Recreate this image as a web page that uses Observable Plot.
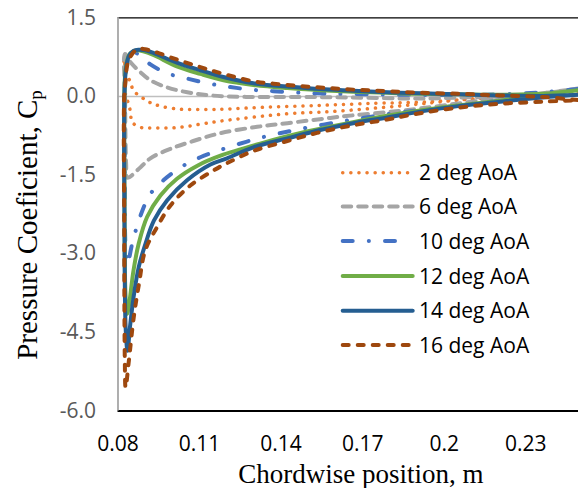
<!DOCTYPE html>
<html><head><meta charset="utf-8">
<script src="https://cdn.jsdelivr.net/npm/d3@7"></script>
<script src="https://cdn.jsdelivr.net/npm/@observablehq/plot@0.6"></script>
<style>body{margin:0;background:#fff}</style>
</head><body><div id="chart"></div>
<script>
const seriesNames = ["2 deg AoA", "6 deg AoA", "10 deg AoA", "12 deg AoA", "14 deg AoA", "16 deg AoA"];
const xTicks = [0.08, 0.11, 0.14, 0.17, 0.2, 0.23];
const yTicks = [1.5, 0, -1.5, -3, -4.5, -6];

// 2 deg: pressure side (p) and suction side (s), leading edge -> trailing edge
const x2p = [0.0822, 0.0831, 0.0846, 0.0857, 0.0883, 0.0907, 0.0930, 0.0960, 0.1018, 0.1077, 0.1140, 0.1202, 0.1323, 0.1544, 0.1750, 0.1911, 0.2069, 0.2205, 0.2363, 0.2492];
const cp2p = [0.72, 0.44, 0.27, 0.11, 0.00, -0.09, -0.14, -0.19, -0.24, -0.25, -0.25, -0.24, -0.21, -0.17, -0.13, -0.11, -0.06, -0.02, 0.03, 0.10];
const x2s = [0.0825, 0.0829, 0.0839, 0.0846, 0.0852, 0.0883, 0.0912, 0.0945, 0.1000, 0.1055, 0.1114, 0.1177, 0.1423, 0.1581, 0.1838, 0.2069, 0.2205, 0.2363, 0.2492];
const cp2s = [0.30, 0.00, -0.14, -0.30, -0.49, -0.59, -0.60, -0.60, -0.60, -0.57, -0.52, -0.47, -0.33, -0.29, -0.18, -0.06, 0.00, 0.06, 0.12];

// 6 deg
const x6p = [0.0826, 0.0846, 0.0883, 0.0919, 0.0982, 0.1055, 0.1140, 0.1287, 0.1471, 0.1654, 0.1911, 0.2058, 0.2205, 0.2363, 0.2492];
const cp6p = [0.81, 0.65, 0.46, 0.31, 0.17, 0.08, 0.02, -0.01, -0.01, -0.02, -0.04, -0.02, 0.00, 0.06, 0.15];
const x6s = [0.0826, 0.0830, 0.0834, 0.0883, 0.0919, 0.0993, 0.1077, 0.1177, 0.1312, 0.1423, 0.1581, 0.1665, 0.1790, 0.1911, 0.2058, 0.2205, 0.2363, 0.2492];
const cp6s = [0.00, -1.30, -1.55, -1.35, -1.18, -1.00, -0.85, -0.70, -0.58, -0.51, -0.41, -0.36, -0.30, -0.23, -0.13, -0.03, 0.06, 0.15];

// 10 deg
const x10p = [0.0825, 0.0831, 0.0842, 0.0857, 0.0875, 0.0901, 0.0919, 0.0982, 0.1055, 0.1140, 0.1213, 0.1287, 0.1371, 0.1518, 0.1606, 0.1753, 0.1911, 0.2058, 0.2205, 0.2363, 0.2492];
const cp10p = [0.20, 0.60, 0.80, 0.85, 0.80, 0.69, 0.61, 0.44, 0.34, 0.24, 0.18, 0.13, 0.10, 0.06, 0.05, 0.04, 0.03, 0.03, 0.04, 0.08, 0.14];
const x10s = [0.0825, 0.0828, 0.0835, 0.0852, 0.0883, 0.0919, 0.0967, 0.1041, 0.1103, 0.1177, 0.1323, 0.1471, 0.1643, 0.1790, 0.1911, 0.2058, 0.2205, 0.2363, 0.2492];
const cp10s = [-1.50, -2.90, -3.20, -2.81, -2.27, -1.86, -1.60, -1.32, -1.16, -1.02, -0.79, -0.62, -0.46, -0.34, -0.26, -0.17, -0.08, 0.02, 0.14];

// 12 deg
const x12p = [0.0824, 0.0829, 0.0840, 0.0856, 0.0871, 0.0893, 0.0930, 0.1019, 0.1103, 0.1188, 0.1298, 0.1423, 0.1544, 0.1665, 0.1790, 0.1911, 0.2058, 0.2205, 0.2363, 0.2492];
const cp12p = [0.20, 0.55, 0.78, 0.86, 0.88, 0.86, 0.79, 0.57, 0.43, 0.31, 0.22, 0.16, 0.12, 0.09, 0.07, 0.05, 0.04, 0.03, 0.05, 0.12];
const x12s = [0.0824, 0.0827, 0.0833, 0.0839, 0.0857, 0.0876, 0.0907, 0.0956, 0.1017, 0.1092, 0.1177, 0.1323, 0.1495, 0.1665, 0.1790, 0.1911, 0.2058, 0.2205, 0.2363, 0.2492];
const cp12s = [-2.00, -3.70, -4.15, -4.03, -3.32, -2.81, -2.30, -1.89, -1.57, -1.32, -1.13, -0.90, -0.67, -0.49, -0.37, -0.27, -0.17, -0.08, 0.03, 0.12];

// 14 deg
const x14p = [0.0824, 0.0829, 0.0840, 0.0858, 0.0875, 0.0900, 0.0930, 0.1019, 0.1103, 0.1188, 0.1298, 0.1423, 0.1544, 0.1665, 0.1790, 0.1911, 0.2058, 0.2205, 0.2363, 0.2492];
const cp14p = [0.10, 0.50, 0.77, 0.87, 0.89, 0.88, 0.83, 0.64, 0.50, 0.37, 0.25, 0.19, 0.14, 0.11, 0.08, 0.06, 0.04, 0.02, 0.01, 0.03];
const x14s = [0.0824, 0.0828, 0.0835, 0.0844, 0.0857, 0.0876, 0.0901, 0.0932, 0.0981, 0.1054, 0.1140, 0.1201, 0.1298, 0.1423, 0.1544, 0.1665, 0.1790, 0.1911, 0.2058, 0.2205, 0.2363, 0.2492];
const cp14s = [-2.50, -4.40, -4.85, -4.40, -3.84, -3.26, -2.81, -2.37, -1.98, -1.60, -1.30, -1.18, -0.97, -0.80, -0.64, -0.51, -0.40, -0.29, -0.18, -0.10, -0.02, 0.03];

// 16 deg
const x16p = [0.0823, 0.0828, 0.0835, 0.0852, 0.0868, 0.0883, 0.0900, 0.0930, 0.1019, 0.1103, 0.1188, 0.1298, 0.1423, 0.1544, 0.1665, 0.1790, 0.1911, 0.2058, 0.2205, 0.2363, 0.2492];
const cp16p = [0.00, 0.30, 0.62, 0.81, 0.89, 0.91, 0.90, 0.86, 0.70, 0.56, 0.43, 0.29, 0.22, 0.17, 0.13, 0.10, 0.07, 0.05, 0.02, -0.01, -0.07];
const x16s = [0.0823, 0.0825, 0.0828, 0.0840, 0.0858, 0.0878, 0.0900, 0.0944, 0.0993, 0.1066, 0.1152, 0.1202, 0.1298, 0.1423, 0.1544, 0.1665, 0.1790, 0.1911, 0.2058, 0.2205, 0.2363, 0.2492];
const cp16s = [-2.50, -5.00, -5.55, -5.04, -4.21, -3.55, -2.94, -2.49, -2.08, -1.70, -1.41, -1.27, -1.04, -0.85, -0.68, -0.55, -0.44, -0.32, -0.21, -0.14, -0.10, -0.07];

const seriesData = [
  [x2p, cp2p, x2s, cp2s], [x6p, cp6p, x6s, cp6s], [x10p, cp10p, x10s, cp10s],
  [x12p, cp12p, x12s, cp12s], [x14p, cp14p, x14s, cp14s], [x16p, cp16p, x16s, cp16s]
];
const styles = [
  {stroke: "#ED7D31", strokeWidth: 3.5, dash: "0.1 8"},
  {stroke: "#A5A5A5", strokeWidth: 4, dash: "8.5 7"},
  {stroke: "#4472C4", strokeWidth: 4, dash: "10 16.1 0.1 16.1"},
  {stroke: "#70AD47", strokeWidth: 4, dash: null},
  {stroke: "#255E91", strokeWidth: 4, dash: null},
  {stroke: "#9E480E", strokeWidth: 4, dash: "6 9"}
];

function loop(xp, cpp, xs, cps, name) {
  const rows = [];
  for (let i = xp.length - 1; i >= 0; i--) rows.push({x: xp[i], cp: cpp[i], s: name});
  for (let i = 0; i < xs.length; i++) rows.push({x: xs[i], cp: cps[i], s: name});
  return rows;
}

const lineMarks = seriesData.map((d, i) => Plot.line(loop(d[0], d[1], d[2], d[3], seriesNames[i]), {
  x: "x", y: "cp", stroke: styles[i].stroke, strokeWidth: styles[i].strokeWidth,
  strokeDasharray: styles[i].dash || undefined, strokeLinecap: "round", strokeLinejoin: "round",
  curve: "catmull-rom"
}));

const svg = Plot.plot({
  width: 578, height: 488,
  marginLeft: 117.5, marginRight: 0, marginTop: 17.3, marginBottom: 77.5,
  style: {fontFamily: "'Open Sans', sans-serif", fontSize: "21px", background: "#fff"},
  x: {domain: [0.08, 0.2494]},
  y: {domain: [-6, 1.5]},
  marks: [
    Plot.ruleY([0], {stroke: "#BFBFBF", strokeWidth: 1.5}),
    Plot.ruleY([1.5], {stroke: "#000", strokeWidth: 1.3}),
    Plot.ruleY([-6], {stroke: "#000", strokeWidth: 2}),
    Plot.ruleX([0.08], {stroke: "#A6A6A6", strokeWidth: 1.8}),
    ...lineMarks,
    Plot.axisY(yTicks, {tickSize: 0, tickPadding: 22, tickFormat: d => d.toFixed(1), fontSize: 21, color: "#595959", label: null}),
    Plot.axisX(xTicks, {tickSize: 0, tickPadding: 25, tickFormat: d => String(d), fontSize: 21, color: "#000", label: null})
  ]
});

const g = d3.select(svg).append("g");
// axis titles
g.append("text").attr("x", 361).attr("y", 483).attr("text-anchor", "middle")
  .attr("font-family", "'Liberation Serif', 'Times New Roman', serif").attr("font-size", 27).attr("fill", "#000")
  .text("Chordwise position, m");
const yt = g.append("text").attr("transform", "translate(36.7,225) rotate(-90)").attr("text-anchor", "middle")
  .attr("font-family", "'Liberation Serif', 'Times New Roman', serif").attr("font-size", 29).attr("fill", "#000");
yt.append("tspan").text("Pressure Coeficient, C");
yt.append("tspan").attr("font-size", 19).attr("dy", 5).text("p");

// legend
const legendY = [172.7, 206.5, 241, 276, 310.7, 345];
const legendX2 = [412.7, 412.7, 401, 412.7, 412.7, 412.7];
seriesNames.forEach((name, i) => {
  const st = styles[i];
  g.append("line").attr("x1", 342.7).attr("x2", legendX2[i]).attr("y1", legendY[i]).attr("y2", legendY[i])
    .attr("stroke", st.stroke).attr("stroke-width", st.strokeWidth).attr("stroke-linecap", "round")
    .attr("stroke-dasharray", st.dash);
  g.append("text").attr("x", 419).attr("y", legendY[i]).attr("dy", "0.36em").attr("text-anchor", "start")
    .attr("font-family", "'Open Sans', sans-serif").attr("font-size", 21).attr("fill", "#000")
    .text(name);
});

document.getElementById("chart").appendChild(svg);
</script>
</body></html>
